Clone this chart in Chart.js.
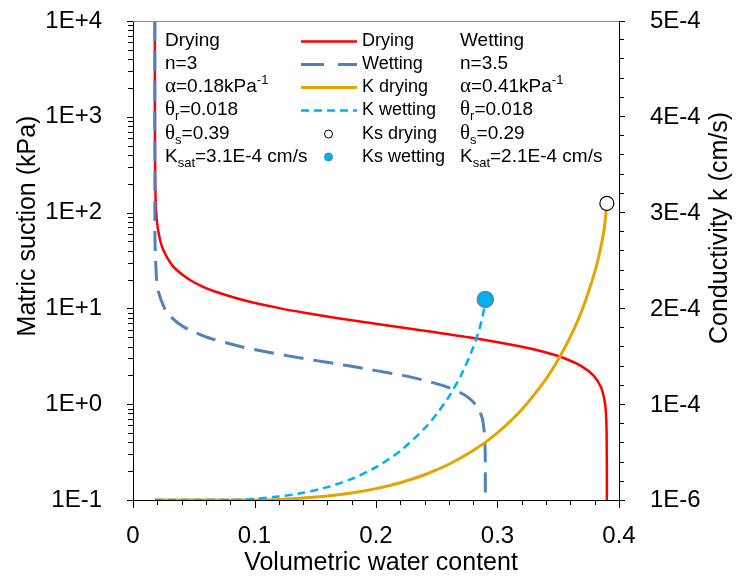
<!DOCTYPE html>
<html>
<head>
<meta charset="utf-8">
<script src="https://cdn.jsdelivr.net/npm/chart.js@4.4.1/dist/chart.umd.min.js"></script>
<style>
  html, body { margin: 0; padding: 0; background: #fff; }
  #wrap { width: 743px; height: 578px; }
</style>
</head>
<body>
<div id="wrap"><canvas id="swcc" width="743" height="578"></canvas></div>
<script>
// water retention, drying branch (theta, suction kPa)
const dryTheta = [0.018, 0.01801, 0.0183, 0.0191, 0.0203, 0.0226, 0.0252, 0.0307, 0.0362, 0.0463, 0.0568, 0.0674, 0.0929, 0.1213, 0.1411, 0.1660, 0.1968, 0.2340, 0.2762, 0.3191, 0.3386, 0.3555, 0.3690, 0.3789, 0.3852, 0.3886, 0.3895, 0.3898, 0.3900, 0.3900];
const dryH     = [10000, 1000, 200, 100, 70, 50, 40, 30, 25, 20, 17, 15, 12, 10, 9, 8, 7, 6, 5, 4, 3.5, 3, 2.5, 2, 1.5, 1, 0.7, 0.5, 0.2, 0.1];

// water retention, wetting branch
const wetTheta = [0.018, 0.01803, 0.0181, 0.0194, 0.0209, 0.0260, 0.0299, 0.0372, 0.0458, 0.0608, 0.0883, 0.1103, 0.1403, 0.1787, 0.2217, 0.2419, 0.2593, 0.2704, 0.2768, 0.2817, 0.2852, 0.2876, 0.2892, 0.2899, 0.2900];
const wetH     = [10000, 100, 50, 20, 15, 10, 8.5, 7, 6, 5, 4, 3.5, 3, 2.5, 2, 1.75, 1.5, 1.3, 1.15, 1, 0.85, 0.7, 0.5, 0.3, 0.1];

// conductivity (cm/s) on the right axis
const kDryTheta = [0.018, 0.05, 0.08, 0.1, 0.12, 0.14, 0.16, 0.18, 0.2, 0.22, 0.24, 0.26, 0.28, 0.3, 0.32, 0.34, 0.35, 0.36, 0.37, 0.38, 0.385, 0.388, 0.39];
const kDryK     = [1e-6, 1e-6, 1e-6, 1e-6, 1.56e-6, 2.98e-6, 5.16e-6, 8.36e-6, 1.287e-5, 1.904e-5, 2.731e-5, 3.822e-5, 5.246e-5, 7.10e-5, 9.52e-5, 1.272e-4, 1.473e-4, 1.711e-4, 2.003e-4, 2.384e-4, 2.641e-4, 2.848e-4, 3.1e-4];
const kWetTheta = [0.018, 0.05, 0.08, 0.1, 0.12, 0.14, 0.16, 0.18, 0.2, 0.22, 0.24, 0.25, 0.26, 0.27, 0.28, 0.285, 0.288, 0.29];
const kWetK     = [1e-6, 1e-6, 1e-6, 2.17e-6, 4.56e-6, 8.45e-6, 1.438e-5, 2.300e-5, 3.518e-5, 5.211e-5, 7.559e-5, 9.065e-5, 1.087e-4, 1.310e-4, 1.598e-4, 1.788e-4, 1.936e-4, 2.1e-4];

// saturated conductivity points: drying, wetting
const ksTheta = [0.39, 0.29];
const ksValue = [3.1e-4, 2.1e-4];

const xTicks = [0, 0.1, 0.2, 0.3, 0.4];
const suctionTicks = [0.1, 1, 10, 100, 1000, 10000];
const kTicks = [1e-6, 1e-4, 2e-4, 3e-4, 4e-4, 5e-4];

const seriesNames = ['Drying', 'Wetting', 'K drying', 'K wetting', 'Ks drying', 'Ks wetting'];
const seriesColors = ['#FF0000', '#4F81BD', '#E4A500', '#00B0F0', '#000000', '#00B0F0'];

// fitted parameters printed in the plot
const dryingNotes = ['Drying', '3', '0.18', '0.018', '0.39', '3.1E-4'];
const wettingNotes = ['Wetting', '3.5', '0.41', '0.018', '0.29', '2.1E-4'];

const SANS = '"Liberation Sans", Arial, sans-serif';
const SERIF = '"Liberation Serif", "Times New Roman", serif';

const pts = (xs, ys) => xs.map((x, i) => ({ x: x, y: ys[i] }));
const sci = v => Number(v).toExponential(0).replace('e', 'E');

// draws a line of mixed text: [text, kind] where kind is '', 'sub', 'sup' or 'greek'
function richText(ctx, x, y, parts) {
  let cx = x;
  parts.forEach(([t, kind]) => {
    let dy = 0;
    if (kind === 'sub') { ctx.font = '13px ' + SANS; dy = 5; }
    else if (kind === 'sup') { ctx.font = '13px ' + SANS; dy = -8; }
    else if (kind === 'greek') { ctx.font = '21px ' + SERIF; }
    else { ctx.font = '19px ' + SANS; }
    ctx.fillText(t, cx, y + dy);
    cx += ctx.measureText(t).width;
  });
}

function noteLines(n) {
  return [
    [[n[0], '']],
    [['n=' + n[1], '']],
    [['\u03b1', 'greek'], ['=' + n[2] + 'kPa', ''], ['-1', 'sup']],
    [['\u03b8', 'greek'], ['r', 'sub'], ['=' + n[3], '']],
    [['\u03b8', 'greek'], ['s', 'sub'], ['=' + n[4], '']],
    [['K', ''], ['sat', 'sub'], ['=' + n[5] + ' cm/s', '']]
  ];
}

const decor = {
  id: 'decor',
  afterDraw(chart) {
    const { ctx, chartArea: a, scales: { x, y, y2 } } = chart;
    ctx.save();

    // top frame
    ctx.strokeStyle = '#8c8c8c';
    ctx.lineWidth = 1;
    ctx.beginPath(); ctx.moveTo(a.left, a.top + 0.5); ctx.lineTo(a.right, a.top + 0.5); ctx.stroke();

    // tick marks
    ctx.strokeStyle = '#000';
    const seg = (x1, y1, x2, y2_) => { ctx.beginPath(); ctx.moveTo(x1, y1); ctx.lineTo(x2, y2_); ctx.stroke(); };
    for (let k = 0; k <= 20; k++) {
      const px = Math.round(x.getPixelForValue(k * 0.02)) + 0.5;
      seg(px, a.bottom, px, a.bottom + (k % 5 === 0 ? 8 : 5));
    }
    for (let e = -1; e <= 4; e++) {
      for (let m = 1; m <= (e === 4 ? 1 : 9); m++) {
        const py = Math.round(y.getPixelForValue(m * Math.pow(10, e))) + 0.5;
        seg(a.left, py, a.left - (m === 1 ? 6 : 5), py);
      }
    }
    for (let k = 0; k <= 25; k++) {
      const v = 1e-6 + k * 2e-5;
      if (v > 5e-4 + 1e-9) break;
      const py = Math.round(y2.getPixelForValue(v)) + 0.5;
      seg(a.right, py, a.right + (k % 5 === 0 ? 6 : 5), py);
    }
    const topTick = Math.round(y2.getPixelForValue(5e-4)) + 0.5;
    seg(a.right, topTick, a.right + 6, topTick);

    // axis titles
    ctx.fillStyle = '#000';
    ctx.font = '25px ' + SANS;
    ctx.textAlign = 'center';
    ctx.textBaseline = 'middle';
    ctx.fillText('Volumetric water content', 381, 563);
    ctx.save(); ctx.translate(28, 226); ctx.rotate(-Math.PI / 2);
    ctx.fillText('Matric suction (kPa)', 0, 0); ctx.restore();
    ctx.save(); ctx.translate(720, 228); ctx.rotate(-Math.PI / 2);
    ctx.fillText('Conductivity k (cm/s)', 0, 0); ctx.restore();

    // parameter notes
    ctx.textAlign = 'left';
    ctx.textBaseline = 'alphabetic';
    const rows = [46, 69, 92, 115, 138.5, 161.5];
    noteLines(dryingNotes).forEach((ln, i) => richText(ctx, 165, rows[i], ln));
    noteLines(wettingNotes).forEach((ln, i) => richText(ctx, 460, rows[i], ln));

    // legend
    chart.data.datasets.forEach((ds, i) => {
      const ly = rows[i] - 4.5;
      if (ds.showLine) {
        ctx.strokeStyle = ds.borderColor;
        ctx.lineWidth = ds.borderWidth;
        ctx.setLineDash(i === 1 ? [23, 14] : (ds.borderDash || []));
        seg(301, ly, 357, ly);
        ctx.setLineDash([]);
      } else {
        ctx.beginPath();
        ctx.arc(328.5, ly, 4, 0, Math.PI * 2);
        ctx.fillStyle = ds.pointBackgroundColor;
        ctx.fill();
        ctx.lineWidth = 1;
        ctx.strokeStyle = ds.pointBorderColor;
        ctx.stroke();
      }
      ctx.fillStyle = '#000';
      ctx.font = '18px ' + SANS;
      ctx.fillText(seriesNames[i], 362, rows[i]);
    });
    ctx.restore();
  }
};

const tickFont = { family: SANS, size: 24 };
const fitVertical = w => s => { s.width = w; s.paddingTop = 0; s.paddingBottom = 0; };

new Chart(document.getElementById('swcc'), {
  type: 'scatter',
  data: {
    datasets: [
      { label: seriesNames[0], data: pts(dryTheta, dryH), yAxisID: 'y', showLine: true,
        borderColor: seriesColors[0], borderWidth: 2.5, pointRadius: 0, tension: 0.25, order: 5 },
      { label: seriesNames[1], data: pts(wetTheta, wetH), yAxisID: 'y', showLine: true,
        borderColor: seriesColors[1], borderWidth: 3, borderDash: [20, 10], pointRadius: 0, tension: 0.25, order: 4 },
      { label: seriesNames[2], data: pts(kDryTheta, kDryK), yAxisID: 'y2', showLine: true,
        borderColor: seriesColors[2], borderWidth: 3, pointRadius: 0, tension: 0.25, order: 3 },
      { label: seriesNames[3], data: pts(kWetTheta, kWetK), yAxisID: 'y2', showLine: true,
        borderColor: seriesColors[3], borderWidth: 2.5, borderDash: [8, 5], pointRadius: 0, tension: 0.25, order: 2 },
      { label: seriesNames[4], data: [{ x: ksTheta[0], y: ksValue[0] }], yAxisID: 'y2', showLine: false,
        pointRadius: 7, pointBackgroundColor: '#ffffff', pointBorderColor: seriesColors[4], pointBorderWidth: 1.2, order: 1 },
      { label: seriesNames[5], data: [{ x: ksTheta[1], y: ksValue[1] }], yAxisID: 'y2', showLine: false,
        pointRadius: 8, pointBackgroundColor: seriesColors[5], pointBorderColor: '#4F81BD', pointBorderWidth: 1.5, order: 0 }
    ]
  },
  options: {
    responsive: false,
    animation: false,
    layout: { padding: { top: 21, left: 0, right: 0, bottom: 0 } },
    plugins: { legend: { display: false }, tooltip: { enabled: false } },
    scales: {
      x: {
        type: 'linear', min: 0, max: 0.4,
        grid: { display: false },
        border: { display: true, color: '#000', width: 1 },
        afterBuildTicks: s => { s.ticks = xTicks.map(v => ({ value: v })); },
        afterFit: s => { s.height = 78; },
        ticks: { callback: v => String(v), font: tickFont, color: '#000', padding: 14, maxRotation: 0, autoSkip: false }
      },
      y: {
        type: 'logarithmic', position: 'left', min: 0.1, max: 10000,
        grid: { display: false },
        border: { display: true, color: '#000', width: 1 },
        afterBuildTicks: s => { s.ticks = suctionTicks.map(v => ({ value: v })); },
        afterFit: fitVertical(133),
        ticks: { callback: v => sci(v), font: tickFont, color: '#000', padding: 23, autoSkip: false }
      },
      y2: {
        type: 'linear', position: 'right', min: 1e-6, max: 5e-4,
        grid: { display: false },
        border: { display: true, color: '#000', width: 1 },
        afterBuildTicks: s => { s.ticks = kTicks.map(v => ({ value: v })); },
        afterFit: fitVertical(124),
        ticks: { callback: v => sci(v), font: tickFont, color: '#000', padding: 23, autoSkip: false }
      }
    }
  },
  plugins: [decor]
});
</script>
</body>
</html>
